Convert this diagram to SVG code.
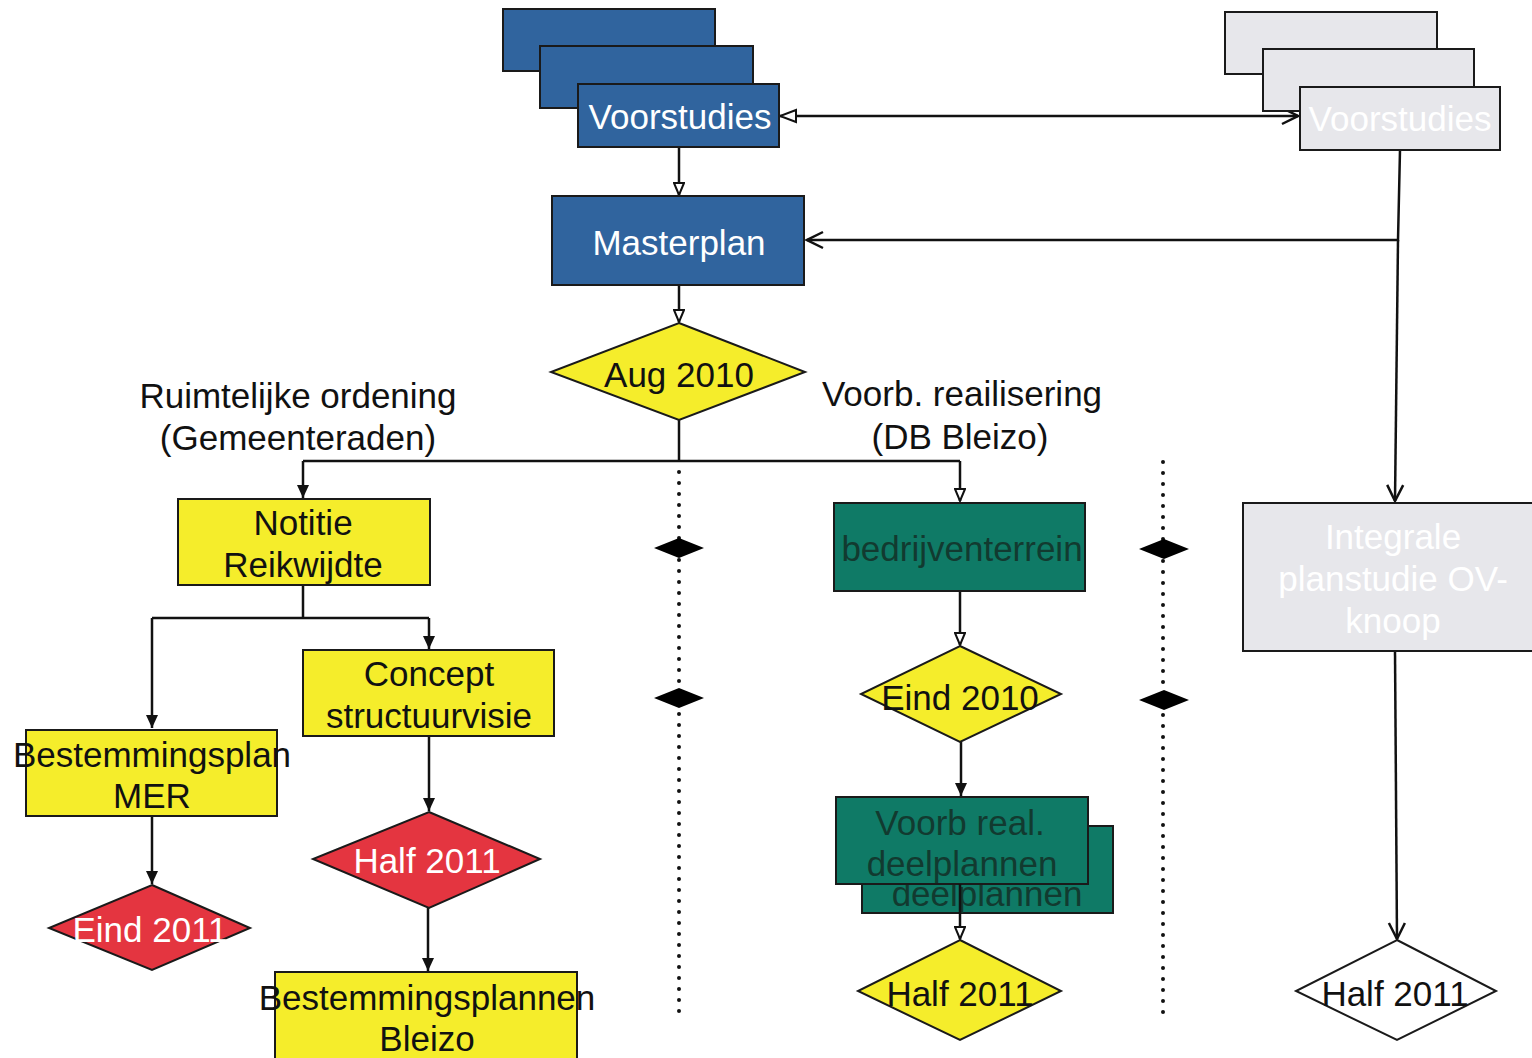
<svg xmlns="http://www.w3.org/2000/svg" width="1532" height="1058" viewBox="0 0 1532 1058">
<style>
text{font-family:"Liberation Sans",Arial,sans-serif;font-size:35px;text-anchor:middle;dominant-baseline:central}
.blue{fill:#30649e;stroke:#1a1a1a;stroke-width:2}
.grey{fill:#e7e7eb;stroke:#1a1a1a;stroke-width:2}
.yel{fill:#f5ed2b;stroke:#1a1a1a;stroke-width:2}
.red{fill:#e43540;stroke:#1a1a1a;stroke-width:2}
.grn{fill:#0f7a66;stroke:#1a1a1a;stroke-width:2}
.wht{fill:#ffffff;stroke:#1a1a1a;stroke-width:2}
.tw{fill:#ffffff}
.tk{fill:#111111}
.tg{fill:#123a30}
.line{fill:none;stroke:#111;stroke-width:2.5}
.dot{fill:none;stroke:#111;stroke-width:4;stroke-linecap:round;stroke-dasharray:0 11}
.sep{fill:#000}
</style>
<defs>
<marker id="tri" markerWidth="14" markerHeight="14" refX="13" refY="7" orient="auto" markerUnits="userSpaceOnUse">
<path d="M0,1 L13,7 L0,13 Z" fill="#111"/>
</marker>
<marker id="otri" markerWidth="14" markerHeight="12" refX="13" refY="6" orient="auto" markerUnits="userSpaceOnUse">
<path d="M1,1 L13,6 L1,11 Z" fill="#fff" stroke="#111" stroke-width="2"/>
</marker>
<marker id="vee" markerWidth="20" markerHeight="20" refX="18" refY="10" orient="auto" markerUnits="userSpaceOnUse">
<path d="M2,2 L18,10 L2,18" fill="none" stroke="#111" stroke-width="2.5"/>
</marker>
<marker id="veeS" markerWidth="20" markerHeight="20" refX="2" refY="10" orient="auto" markerUnits="userSpaceOnUse">
<path d="M18,4 L2,10 L18,16 Z" fill="#fff" stroke="#111" stroke-width="2"/>
</marker>
</defs>

<g id="connectors">
<path class="line" d="M780,116 L1298,116" marker-start="url(#veeS)" marker-end="url(#vee)"/>
<path class="line" d="M679,147 L679,195" marker-end="url(#otri)"/>
<path class="line" d="M1400,150 L1398,240 L807,240" marker-end="url(#vee)"/>
<path class="line" d="M1398,240 L1395,501" marker-end="url(#vee)"/>
<path class="line" d="M679,285 L679,322" marker-end="url(#otri)"/>
<path class="line" d="M679,420 L679,461"/>
<path class="line" d="M303,461 L960,461"/>
<path class="line" d="M303,461 L303,498" marker-end="url(#tri)"/>
<path class="line" d="M960,461 L960,501" marker-end="url(#otri)"/>
<path class="line" d="M303,585 L303,618 M152,618 L429,618"/>
<path class="line" d="M152,618 L152,728" marker-end="url(#tri)"/>
<path class="line" d="M429,618 L429,649" marker-end="url(#tri)"/>
<path class="line" d="M152,816 L152,884" marker-end="url(#tri)"/>
<path class="line" d="M429,736 L429,811" marker-end="url(#tri)"/>
<path class="line" d="M428,908 L428,971" marker-end="url(#tri)"/>
<path class="line" d="M960,591 L960,645" marker-end="url(#otri)"/>
<path class="line" d="M961,742 L961,796" marker-end="url(#tri)"/>
<path class="dot" d="M679,472 L679,1015"/>
<path class="dot" d="M1163,462 L1163,1018"/>
<path class="sep" d="M654,548 L679,538 L704,548 L679,558 Z"/>
<path class="sep" d="M654,698 L679,688 L704,698 L679,708 Z"/>
<path class="sep" d="M1139,549 L1164,539 L1189,549 L1164,559 Z"/>
<path class="sep" d="M1139,700 L1164,690 L1189,700 L1164,710 Z"/>
<path class="line" d="M1395,651 L1397,939" marker-end="url(#vee)"/>
</g>

<g id="voorstudies-blue">
<rect class="blue" x="503" y="9" width="212" height="62"/>
<rect class="blue" x="540" y="46" width="213" height="62"/>
<rect class="blue" x="578" y="84" width="201" height="63"/>
<text class="tw" x="680" y="116">Voorstudies</text>
</g>

<g id="voorstudies-grey">
<rect class="grey" x="1225" y="12" width="212" height="62"/>
<rect class="grey" x="1263" y="49" width="211" height="62"/>
<rect class="grey" x="1300" y="87" width="200" height="63"/>
<text class="tw" x="1400" y="118">Voorstudies</text>
</g>

<g id="masterplan">
<rect class="blue" x="552" y="196" width="252" height="89"/>
<text class="tw" x="679" y="242">Masterplan</text>
</g>

<g id="aug2010">
<path class="yel" d="M679,323 L805,372 L679,420 L551,372 Z"/>
<text class="tk" x="679" y="374">Aug 2010</text>
</g>

<g id="label-ro">
<text class="tk" x="298" y="395">Ruimtelijke ordening</text>
<text class="tk" x="298" y="437">(Gemeenteraden)</text>
</g>

<g id="label-vr">
<text class="tk" x="962" y="393">Voorb. reailisering</text>
<text class="tk" x="960" y="436">(DB Bleizo)</text>
</g>

<g id="notitie">
<rect class="yel" x="178" y="499" width="252" height="86"/>
<text class="tk" x="303" y="522">Notitie</text>
<text class="tk" x="303" y="564">Reikwijdte</text>
</g>

<g id="concept">
<rect class="yel" x="303" y="650" width="251" height="86"/>
<text class="tk" x="429" y="673">Concept</text>
<text class="tk" x="429" y="715">structuurvisie</text>
</g>

<g id="bp-mer">
<rect class="yel" x="26" y="730" width="251" height="86"/>
<text class="tk" x="152" y="754">Bestemmingsplan</text>
<text class="tk" x="152" y="795">MER</text>
</g>

<g id="eind2011">
<path class="red" d="M152,885 L250,928 L152,970 L49,928 Z"/>
<text class="tw" x="150" y="929">Eind 2011</text>
</g>

<g id="half2011-red">
<path class="red" d="M429,812 L540,859 L429,908 L313,859 Z"/>
<text class="tw" x="427" y="860">Half 2011</text>
</g>

<g id="bp-bleizo">
<rect class="yel" x="275" y="972" width="302" height="90"/>
<text class="tk" x="427" y="997">Bestemmingsplannen</text>
<text class="tk" x="427" y="1038">Bleizo</text>
</g>

<g id="bedrijventerrein">
<rect class="grn" x="834" y="503" width="251" height="88"/>
<text class="tg" x="962" y="548">bedrijventerrein</text>
</g>

<g id="eind2010">
<path class="yel" d="M960,646 L1061,694 L960,742 L861,694 Z"/>
<text class="tk" x="960" y="697">Eind 2010</text>
</g>

<g id="deelplannen">
<rect class="grn" x="862" y="826" width="251" height="87"/>
<text class="tg" x="987" y="893">deelplannen</text>
<rect class="grn" x="836" y="797" width="252" height="87"/>
<text class="tg" x="960" y="822">Voorb real.</text>
<text class="tg" x="962" y="863">deelplannen</text>
<path class="line" d="M960,884 L960,939" marker-end="url(#otri)"/>
</g>

<g id="half2011-yellow">
<path class="yel" d="M960,940 L1061,991 L960,1040 L858,991 Z"/>
<text class="tk" x="960" y="993">Half 2011</text>
</g>

<g id="integrale">
<rect class="grey" x="1243" y="503" width="295" height="148"/>
<text class="tw" x="1393" y="536">Integrale</text>
<text class="tw" x="1393" y="578">planstudie OV-</text>
<text class="tw" x="1393" y="620">knoop</text>
</g>

<g id="half2011-white">
<path class="wht" d="M1397,940 L1496,991 L1397,1040 L1296,991 Z"/>
<text class="tk" x="1395" y="993">Half 2011</text>
</g>
</svg>
